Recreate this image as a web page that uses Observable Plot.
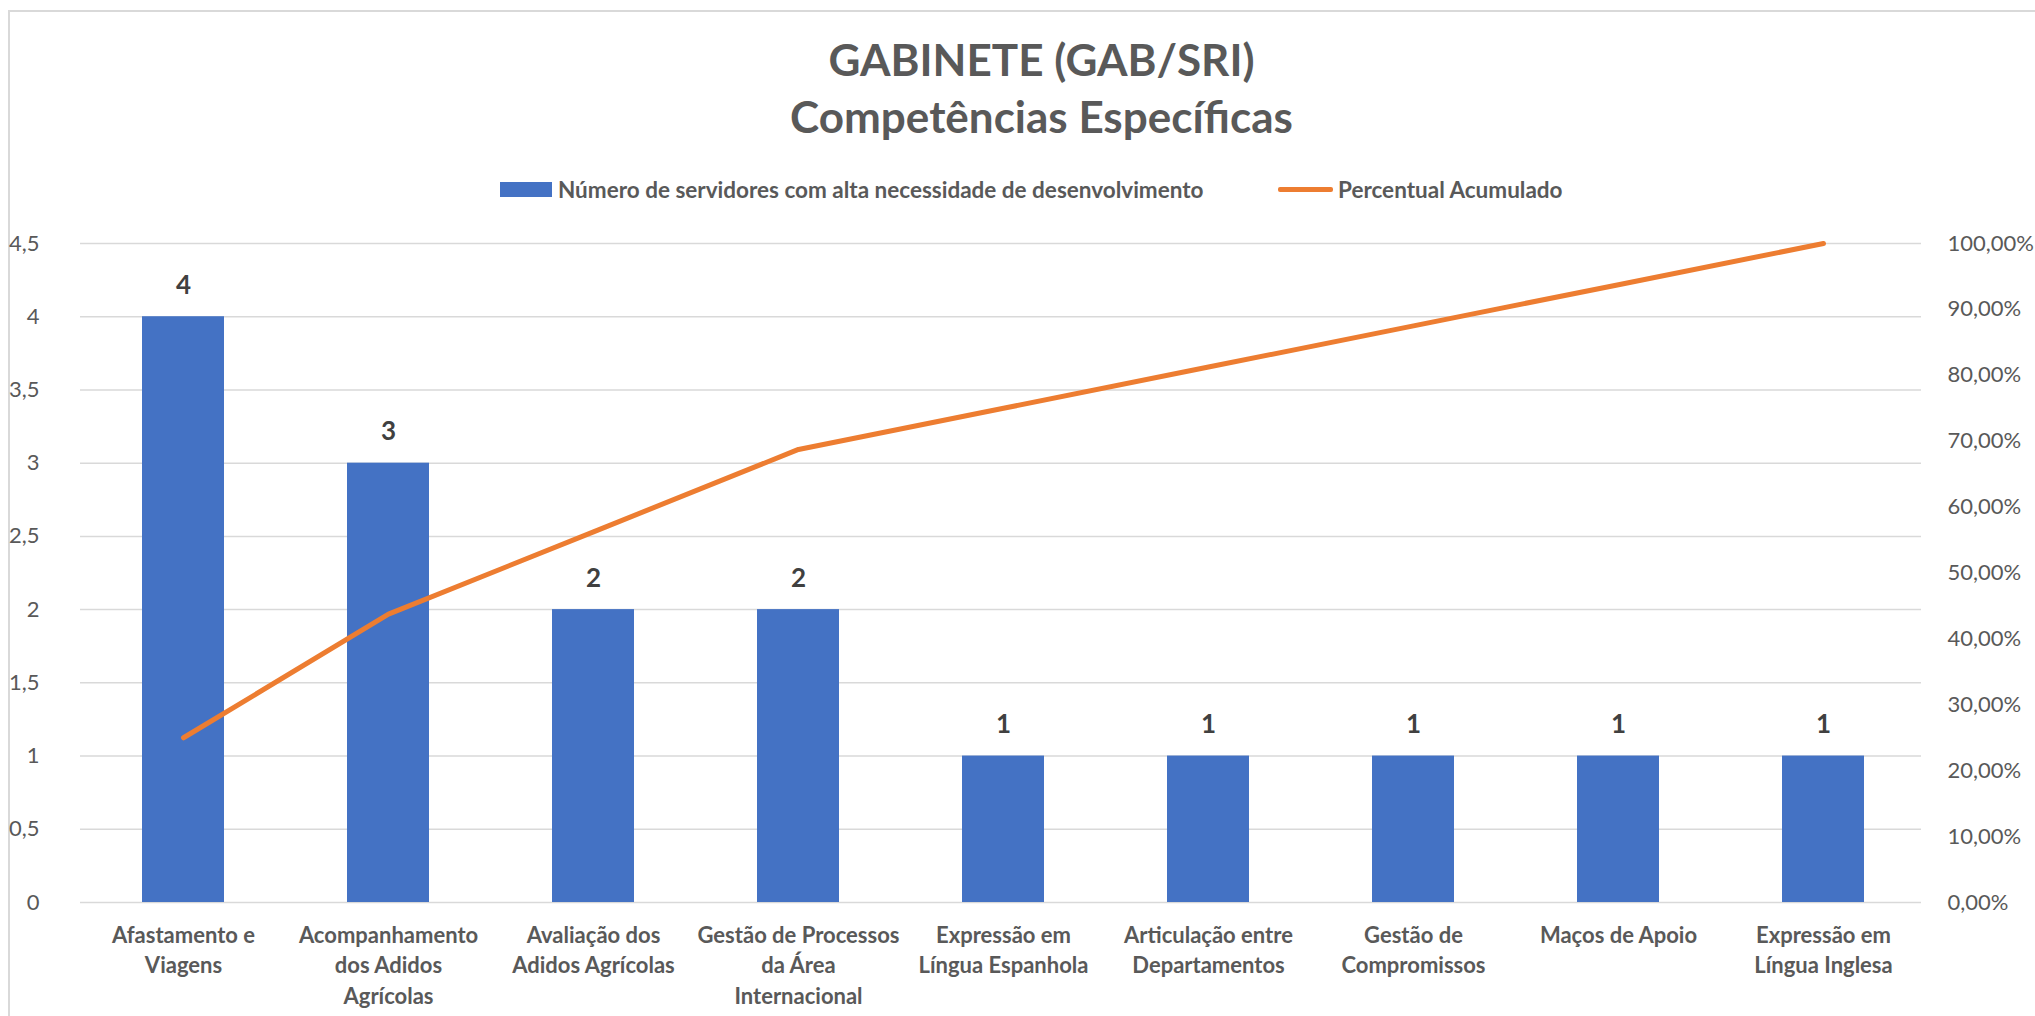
<!DOCTYPE html>
<html>
<head>
<meta charset="utf-8">
<script src="https://cdn.jsdelivr.net/npm/d3@7"></script>
<script src="https://cdn.jsdelivr.net/npm/@observablehq/plot@0.6"></script>
<style>
  html, body { margin: 0; padding: 0; background: #fff; }
  body { width: 2035px; height: 1016px; position: relative; overflow: hidden; font-family: Lato, "Open Sans", sans-serif; }
  #frame { position: absolute; left: 8px; top: 10px; width: 2040px; height: 1020px; border: 2px solid #d9d9d9; box-sizing: border-box; }
  #title { position: absolute; left: 24px; width: 2035px; top: 31px; text-align: center; color: #595959; font-weight: bold; font-size: 44px; line-height: 57px; }
  #legend { position: absolute; top: 176px; left: 0; width: 2035px; height: 26px; color: #595959; font-weight: bold; font-size: 22.5px; }
  .lg { position: absolute; top: 0; display: flex; align-items: center; height: 26px; white-space: nowrap; }
  #chart { position: absolute; left: 0; top: 210px; }
</style>
</head>
<body>
<div id="frame"></div>
<div id="title">GABINETE (GAB/SRI)<br>Competências Específicas</div>
<div id="legend">
  <div class="lg" style="left:500px"><span style="display:inline-block;width:52px;height:15px;background:#4472C4;margin-right:6px"></span><span id="lg1"></span></div>
  <div class="lg" style="left:1278px"><span style="display:inline-block;width:55px;height:5px;background:#ED7D31;margin-right:5px;border-radius:2px"></span><span id="lg2"></span></div>
</div>
<div id="chart"></div>
<script>
const categories = [
  "Afastamento e Viagens",
  "Acompanhamento dos Adidos Agrícolas",
  "Avaliação dos Adidos Agrícolas",
  "Gestão de Processos da Área Internacional",
  "Expressão em Língua Espanhola",
  "Articulação entre Departamentos",
  "Gestão de Compromissos",
  "Maços de Apoio",
  "Expressão em Língua Inglesa"
];
const tickLabels = [
  "Afastamento e\nViagens",
  "Acompanhamento\ndos Adidos\nAgrícolas",
  "Avaliação dos\nAdidos Agrícolas",
  "Gestão de Processos\nda Área\nInternacional",
  "Expressão em\nLíngua Espanhola",
  "Articulação entre\nDepartamentos",
  "Gestão de\nCompromissos",
  "Maços de Apoio",
  "Expressão em\nLíngua Inglesa"
];
const servidores = [4, 3, 2, 2, 1, 1, 1, 1, 1];
const percentualAcumulado = [25, 43.75, 56.25, 68.75, 75, 81.25, 87.5, 93.75, 100];
const leftTicks = [0, 0.5, 1, 1.5, 2, 2.5, 3, 3.5, 4, 4.5];
const rightTicks = [0, 10, 20, 30, 40, 50, 60, 70, 80, 90, 100];
const seriesNames = ["Número de servidores com alta necessidade de desenvolvimento", "Percentual Acumulado"];

document.getElementById("lg1").textContent = seriesNames[0];
document.getElementById("lg2").textContent = seriesNames[1];

const yMax = 4.5, pMax = 100;
const toY = p => p / pMax * yMax;

const data = categories.map((c, i) => ({cat: c, n: servidores[i], pct: percentualAcumulado[i], label: tickLabels[i]}));
const labelOf = new Map(data.map(d => [d.cat, d.label]));

const chart = Plot.plot({
  width: 2035,
  height: 806,
  marginTop: 33,
  marginBottom: 114,
  marginLeft: 78,
  marginRight: 107,
  style: {fontFamily: "Lato, 'Open Sans', sans-serif", background: "transparent", overflow: "visible"},
  x: {domain: categories, paddingInner: 0.6, paddingOuter: 0.3, label: null},
  y: {domain: [0, yMax], label: null},
  marks: [
    Plot.ruleY(leftTicks, {stroke: "#d9d9d9", strokeWidth: 1.5, insetLeft: 2, insetRight: 7}),
    Plot.barY(data, {x: "cat", y: "n", fill: "#4472C4"}),
    Plot.axisY(leftTicks, {anchor: "left", tickSize: 0, tickPadding: 39, tickFormat: d => String(d).replace(".", ","), fontSize: 22, fill: "#595959", label: null}),
    Plot.axisY(rightTicks.map(toY), {anchor: "right", tickSize: 0, tickPadding: 19, tickFormat: v => (Math.round(v / yMax * pMax)).toFixed(2).replace(".", ",") + "%", fontSize: 22, fill: "#595959", label: null}),
    Plot.axisX({tickSize: 0, tickPadding: 19, tickFormat: c => labelOf.get(c), fontSize: 22, fontWeight: "bold", fill: "#595959", lineHeight: 1.38, label: null}),
    Plot.line(data, {x: "cat", y: d => toY(d.pct), stroke: "#ED7D31", strokeWidth: 5, strokeLinecap: "round"}),
    Plot.text(data, {x: "cat", y: "n", text: d => String(d.n), dy: -31, fontSize: 26, fontWeight: "bold", fill: "#404040"})
  ]
});
document.getElementById("chart").appendChild(chart);
</script>
</body>
</html>
